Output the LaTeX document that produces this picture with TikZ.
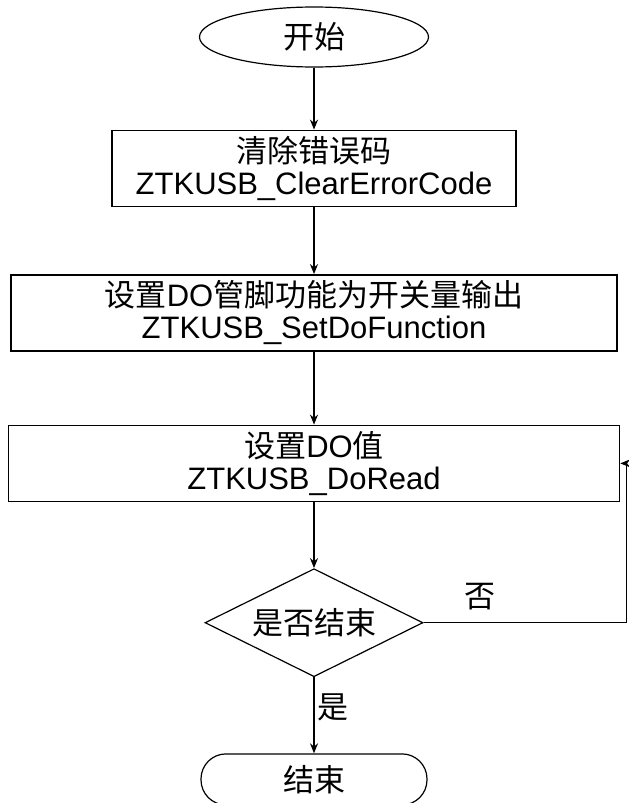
\documentclass[tikz,border=0pt]{standalone}
\usepackage{fontspec}
\setmainfont{Liberation Sans}
\newfontfamily\cjk{Noto Sans CJK SC}
\newcommand{\zh}[1]{{\cjk #1}}
\usepackage{tikz}
\usetikzlibrary{shapes,arrows.meta,positioning}

\begin{document}
\begin{tikzpicture}[
        x=1pt, y=-1pt,
        % Styles
        procbox/.style={
            rectangle,
            draw=black,
            line width=1.5pt,
            minimum height=76pt,
            inner sep=0pt,
            align=center
        },
        terminal/.style={
            draw=black,
            line width=1.2pt,
            inner sep=0pt
        },
        decision/.style={
            diamond,
            draw=black,
            line width=1.2pt,
            aspect=2,
            inner sep=0pt,
            minimum width=218pt,
            minimum height=108pt
        },
        flowtext/.style={
            font=\fontsize{31}{32}\selectfont
        },
        arrow/.style={
            -{Stealth[length=10pt,width=8pt]},
            line width=1.3pt
        }
    ]

    \useasboundingbox (0,0) rectangle (629,803);

    % Start
    \node[terminal, ellipse, flowtext, minimum width=229pt, minimum height=60pt] (start) at (314,37) {\zh{开始}};

    % Clear error code
    \node[procbox, flowtext, minimum width=404pt, below=62pt of start] (clear) {%
        \zh{清除错误码}\\ZTKUSB\_ClearErrorCode};

    % DO pin function
    \node[procbox, flowtext, minimum width=606pt, below=67pt of clear] (setfun) {%
        \zh{设置}DO\zh{管脚功能为开关量输出}\\ZTKUSB\_SetDoFunction};

    % DO value
    \node[procbox, flowtext, minimum width=611pt, below=73pt of setfun] (setval) {%
        \zh{设置}DO\zh{值}\\ZTKUSB\_DoRead};

    % Finished?
    \node[decision, flowtext, below=66pt of setval] (check) {\zh{是否结束}};

    % End
    \node[terminal, rectangle, rounded corners=25pt, flowtext, minimum width=226pt, minimum height=51pt,
          below=76pt of check] (finish) {\zh{结束}};

    % Main flow
    \draw[arrow] (start) -- (clear);
    \draw[arrow] (clear) -- (setfun);
    \draw[arrow] (setfun) -- (setval);
    \draw[arrow] (setval) -- (check);
    \draw[arrow] (check) -- (finish)
        node[pos=0.4, right, inner sep=3pt, flowtext] {\zh{是}};

    % Loop back
    \coordinate[right=203pt of check.east] (back);
    \draw[arrow] (check.east) -- (back)
        node[pos=0.28, above, inner sep=12pt, flowtext] {\zh{否}}
        |- (setval.east);

\end{tikzpicture}
\end{document}
